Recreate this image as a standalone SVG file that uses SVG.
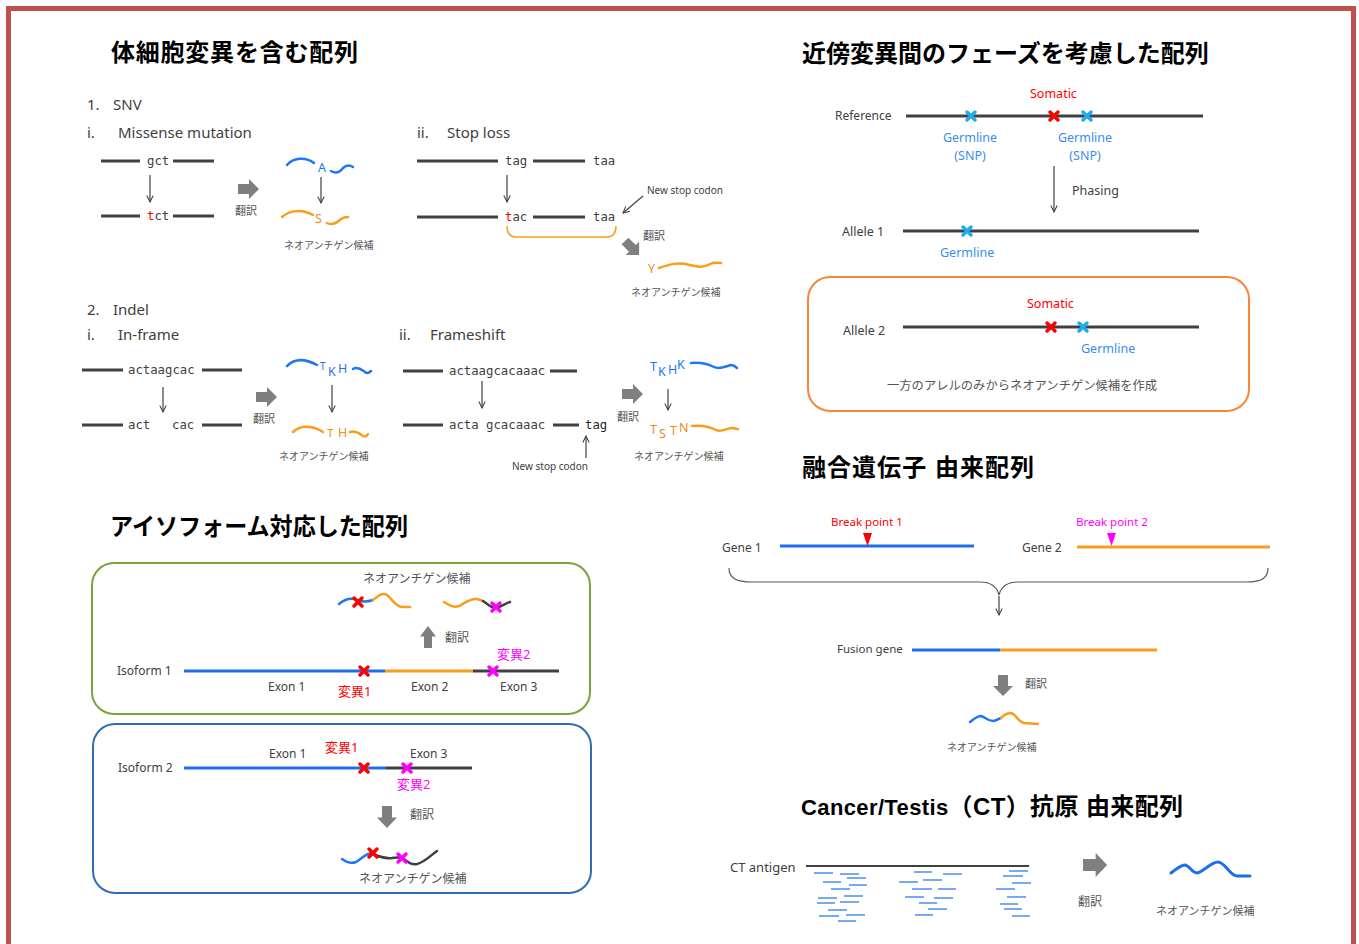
<svg xmlns="http://www.w3.org/2000/svg" xmlns:xlink="http://www.w3.org/1999/xlink" width="1359" height="944" viewBox="0 0 1359 944">
<style>
.title{font-family:"Liberation Sans","Noto Sans CJK JP",sans-serif;font-weight:bold;font-size:24px;fill:#000}
.t{font-family:"Noto Sans","Noto Sans CJK JP",sans-serif;fill:#404040}
.jp{font-family:"Noto Sans CJK JP",sans-serif;fill:#555}
.mono{font-family:"DejaVu Sans Mono","Liberation Mono",monospace;font-size:12.3px;fill:#404040}
.aa{font-family:"Noto Sans",sans-serif;font-size:12.5px}
.red{fill:#ff0000}.mag{fill:#ff00ff}.blu{fill:#3a8cf0}.bl2{fill:#2176f2}.org{fill:#f08a1c}
.dl{stroke:#404040;stroke-width:3;fill:none}
.thin{stroke:#404040;stroke-width:1.2;fill:none;marker-end:url(#ah)}
.wb{fill:none;stroke:#2176f2;stroke-width:2.5;stroke-linecap:round}
.wo{fill:none;stroke:#f99d1c;stroke-width:2.5;stroke-linecap:round}
.wk{fill:none;stroke:#404040;stroke-width:2.5;stroke-linecap:round}
.xr{stroke:#ff0000;stroke-width:3.5;stroke-linecap:round}
.xc{stroke:#22aaea;stroke-width:3.5;stroke-linecap:round}
.xm{stroke:#ff00ff;stroke-width:3.5;stroke-linecap:round}
.ba{fill:#7f7f7f}
.ct{stroke:#4a8ef0;stroke-width:1.6}
</style>
<defs>
<marker id="ah" viewBox="0 0 10 10" refX="9" refY="5" markerWidth="8" markerHeight="8" markerUnits="userSpaceOnUse" orient="auto"><path d="M1,1 L9,5 L1,9" fill="none" stroke="#404040" stroke-width="1.3"/></marker>
<path id="barrow" d="M0,-5 H11 V-10 L21,0 L11,10 V5 H0 Z"/>
<path id="xmark" d="M-4,-4 L4,4 M-4,4 L4,-4"/>
</defs>
<rect width="1359" height="944" fill="#fff"/>
<rect x="8.5" y="8.5" width="1345" height="960" fill="none" stroke="#c0504d" stroke-width="5"/>

<g id="titles">
<text class="title" x="111" y="61" textLength="247">体細胞変異を含む配列</text>
<text class="title" x="802" y="62">近傍変異間のフェーズを考慮した配列</text>
<text class="title" x="802" y="476" textLength="232">融合遺伝子 由来配列</text>
<text class="title" x="110" y="535" textLength="298" lengthAdjust="spacingAndGlyphs">アイソフォーム対応した配列</text>
<text class="title" x="801" y="815" textLength="382"><tspan font-size="22">Cancer/Testis</tspan>（CT）抗原 由来配列</text>
</g>

<g id="snv-missense">
<text class="t" x="87" y="110" font-size="15">1.</text><text class="t" x="113" y="110" font-size="15">SNV</text>
<text class="t" x="87" y="138" font-size="15">i.</text><text class="t" x="118" y="138" font-size="15">Missense mutation</text>
<path class="dl" d="M101,161 H140 M173,161 H214 M101,216 H140 M173,216 H214"/>
<text class="mono" x="147" y="165">gct</text>
<text class="mono" x="147" y="220"><tspan class="red">t</tspan>ct</text>
<use href="#barrow" class="ba" transform="translate(238,189)"/>
<text class="jp" x="235" y="215" font-size="11">翻訳</text>
<path class="wb" d="M287,165 C293,158 305,156 314,163"/>
<text class="aa bl2" x="318" y="172">A</text>
<path class="wb" d="M331,171 C336,174 340,172 343,168 C346,165 350,165 353,167"/>
<path class="wo" d="M282,217 C290,210 302,209 313,215"/>
<text class="aa org" x="315" y="223">S</text>
<path class="wo" d="M327,223 C333,226 338,222 341,219 C344,217 346,217 348,217"/>
<text class="jp" x="284" y="249" font-size="10">ネオアンチゲン候補</text>
</g>

<g id="snv-stoploss">
<text class="t" x="417" y="138" font-size="15">ii.</text><text class="t" x="447" y="138" font-size="15">Stop loss</text>
<path class="dl" d="M417,161 H498 M533,161 H585 M417,217 H498 M533,217 H585"/>
<text class="mono" x="505" y="165">tag</text>
<text class="mono" x="593" y="165">taa</text>
<text class="mono" x="505" y="221"><tspan class="red">t</tspan>ac</text>
<text class="mono" x="593" y="221">taa</text>
<path d="M507,226 C507,234 510,237 516,237 L607,237 C613,237 616,234 616,226" fill="none" stroke="#f99d1c" stroke-width="1.5"/>
<text class="t" x="647" y="194" font-size="10">New stop codon</text>
<use href="#barrow" class="ba" transform="translate(625,241) rotate(45) scale(0.95)"/>
<text class="jp" x="643" y="240" font-size="11">翻訳</text>
<text class="aa org" x="648" y="273">Y</text>
<path class="wo" d="M659,268 C670,264 678,262 690,265 C698,267 704,268 710,264 C714,262 717,263 721,263"/>
<text class="jp" x="631" y="296" font-size="10">ネオアンチゲン候補</text>
</g>

<g id="indel-inframe">
<text class="t" x="87" y="315" font-size="15">2.</text><text class="t" x="113" y="315" font-size="15">Indel</text>
<text class="t" x="87" y="340" font-size="15">i.</text><text class="t" x="118" y="340" font-size="15">In-frame</text>
<path class="dl" d="M82,370 H123 M202,370 H242 M82,425 H123 M202,425 H242"/>
<text class="mono" x="128" y="374">actaagcac</text>
<text class="mono" x="128" y="429">act</text>
<text class="mono" x="172" y="429">cac</text>
<use href="#barrow" class="ba" transform="translate(256,397)"/>
<text class="jp" x="253" y="423" font-size="11">翻訳</text>
<path class="wb" d="M287,366 C295,358 306,359 317,365"/>
<text class="bl2" font-family="Noto Sans,sans-serif" font-size="10" x="320" y="370">T</text>
<text class="aa bl2" x="328" y="376">K</text>
<text class="aa bl2" x="338" y="373">H</text>
<path class="wb" d="M353,369 C358,366 362,370 365,372 C367,374 369,373 371,371"/>
<path class="wo" d="M293,432 C300,425 312,425 323,432"/>
<text class="org" font-family="Noto Sans,sans-serif" font-size="11.5" x="327" y="437">T</text>
<text class="aa org" x="338" y="437">H</text>
<path class="wo" d="M350,432 C356,430 360,434 363,436 C365,437 367,436 368,434"/>
<text class="jp" x="279" y="460" font-size="10">ネオアンチゲン候補</text>
</g>

<g id="indel-frameshift">
<text class="t" x="399" y="340" font-size="15">ii.</text><text class="t" x="430" y="340" font-size="15">Frameshift</text>
<path class="dl" d="M403,371 H443 M550,371 H577 M403,425 H443 M553,425 H579"/>
<text class="mono" x="449" y="375">actaagcacaaac</text>
<text class="mono" x="449" y="429">acta gcacaaac</text>
<text class="mono" x="585" y="429" style="fill:#262626">tag</text>
<text class="t" x="512" y="470" font-size="10">New stop codon</text>
<use href="#barrow" class="ba" transform="translate(622,394)"/>
<text class="jp" x="617" y="421" font-size="11">翻訳</text>
<text class="aa bl2" x="650" y="371">T</text>
<text class="aa bl2" x="658" y="376">K</text>
<text class="aa bl2" x="668" y="374">H</text>
<text class="aa bl2" x="677" y="369">K</text>
<path class="wb" d="M691,363 C700,362 708,364 714,367 C720,370 726,366 731,365 C734,365 736,367 737,368"/>
<text class="aa org" x="650" y="434">T</text>
<text class="aa org" x="659" y="438">S</text>
<text class="aa org" x="670" y="435">T</text>
<text class="aa org" x="679" y="432">N</text>
<path class="wo" d="M692,426 C702,425 710,427 716,430 C721,433 727,428 732,428 C734,428 736,429 738,429"/>
<text class="jp" x="634" y="460" font-size="10">ネオアンチゲン候補</text>
</g>

<g id="phasing">
<text class="t" x="835" y="120" font-size="12">Reference</text>
<path class="dl" d="M906,116 H1203"/>
<use href="#xmark" class="xc" x="971" y="116"/>
<use href="#xmark" class="xr" x="1054" y="116"/>
<use href="#xmark" class="xc" x="1087" y="116"/>
<text class="t red" x="1030" y="98" font-size="12.5">Somatic</text>
<text class="t blu" x="970" y="142" font-size="12.5" text-anchor="middle">Germline</text>
<text class="t blu" x="970" y="160" font-size="12.5" text-anchor="middle">(SNP)</text>
<text class="t blu" x="1085" y="142" font-size="12.5" text-anchor="middle">Germline</text>
<text class="t blu" x="1085" y="160" font-size="12.5" text-anchor="middle">(SNP)</text>
<text class="t" x="1072" y="195" font-size="12.5">Phasing</text>
<text class="t" x="842" y="236" font-size="12.5">Allele 1</text>
<path class="dl" d="M903,231 H1199"/>
<use href="#xmark" class="xc" x="967" y="231"/>
<text class="t blu" x="940" y="257" font-size="12.5">Germline</text>
</g>

<g id="allele2-box">
<rect x="808" y="277" width="441" height="134" rx="22" fill="none" stroke="#f5873a" stroke-width="2"/>
<text class="t red" x="1027" y="308" font-size="12.5">Somatic</text>
<text class="t" x="843" y="335" font-size="12.5">Allele 2</text>
<path class="dl" d="M903,327 H1199"/>
<use href="#xmark" class="xr" x="1051" y="327"/>
<use href="#xmark" class="xc" x="1083" y="327"/>
<text class="t blu" x="1081" y="353" font-size="12.5">Germline</text>
<text class="jp" x="887" y="390" font-size="12.3">一方のアレルのみからネオアンチゲン候補を作成</text>
</g>

<g id="isoform1-box">
<rect x="92" y="563" width="498" height="151" rx="22" fill="none" stroke="#79a33b" stroke-width="2"/>
<text class="jp" x="363" y="583" font-size="12">ネオアンチゲン候補</text>
<path class="wb" d="M339,604 C344,600 350,597 357,600 C362,602 367,602 373,600"/>
<path class="wo" d="M373,600 C378,596 382,592 387,595 C392,599 396,607 402,607 L410,607"/>
<use href="#xmark" class="xr" x="358" y="602"/>
<path class="wo" d="M444,602 C449,605 453,608 459,606 C465,603 470,598 477,599 L483,601"/>
<path class="wk" d="M483,601 C488,604 491,608 496,608 C501,607 506,603 510,602"/>
<use href="#xmark" class="xm" x="496" y="607"/>
<use href="#barrow" class="ba" transform="translate(428,648) rotate(-90) scale(1.05,0.8)"/>
<text class="jp" x="445" y="642" font-size="12">翻訳</text>
<text class="t mag" x="497" y="659" font-size="13">変異2</text>
<text class="t" x="117" y="675" font-size="12">Isoform 1</text>
<path d="M184,671 H385" stroke="#1f6fea" stroke-width="3"/>
<path d="M385,671 H473" stroke="#f99d1c" stroke-width="3"/>
<path d="M473,671 H559" stroke="#404040" stroke-width="3"/>
<use href="#xmark" class="xr" x="364" y="671"/>
<use href="#xmark" class="xm" x="493" y="671"/>
<text class="t" x="268" y="691" font-size="12">Exon 1</text>
<text class="t red" x="338" y="696" font-size="13">変異1</text>
<text class="t" x="411" y="691" font-size="12">Exon 2</text>
<text class="t" x="500" y="691" font-size="12">Exon 3</text>
</g>

<g id="isoform2-box">
<rect x="93" y="724" width="498" height="169" rx="22" fill="none" stroke="#2f6eb5" stroke-width="2"/>
<text class="t" x="269" y="758" font-size="12">Exon 1</text>
<text class="t red" x="325" y="752" font-size="13">変異1</text>
<text class="t" x="410" y="758" font-size="12">Exon 3</text>
<text class="t" x="118" y="772" font-size="12">Isoform 2</text>
<path d="M184,768 H386" stroke="#1f6fea" stroke-width="3"/>
<path d="M386,768 H472" stroke="#404040" stroke-width="3"/>
<use href="#xmark" class="xr" x="364" y="768"/>
<use href="#xmark" class="xm" x="407" y="768"/>
<text class="t mag" x="397" y="789" font-size="13">変異2</text>
<use href="#barrow" class="ba" transform="translate(387,806) rotate(90) scale(1.05,1)"/>
<text class="jp" x="410" y="819" font-size="12">翻訳</text>
<path class="wb" d="M342,859 C346,862 351,864 356,862 C362,858 366,854 371,853"/>
<path class="wk" d="M371,853 C378,856 384,859 392,858 C398,857 401,857 404,859 C408,862 411,865 417,864 C425,862 431,855 437,851"/>
<use href="#xmark" class="xr" x="373" y="853"/>
<use href="#xmark" class="xm" x="402" y="858"/>
<text class="jp" x="359" y="883" font-size="12">ネオアンチゲン候補</text>
</g>

<g id="fusion">
<text class="t red" x="831" y="526" font-size="11.5">Break point 1</text>
<text class="t mag" x="1076" y="526" font-size="11.5">Break point 2</text>
<text class="t" x="722" y="552" font-size="12">Gene 1</text>
<text class="t" x="1022" y="552" font-size="12">Gene 2</text>
<path d="M780,546 H974" stroke="#1f6fea" stroke-width="3"/>
<path d="M1077,547 H1270" stroke="#f99d1c" stroke-width="3"/>
<path d="M863,533 L872,533 L867.5,546 Z" fill="#ff0000"/>
<path d="M1107,533 L1116,533 L1111.5,546 Z" fill="#ff00ff"/>
<text class="t" x="837" y="653" font-size="11.5">Fusion gene</text>
<path d="M912,650 H1000" stroke="#1f6fea" stroke-width="3"/>
<path d="M1000,650 H1157" stroke="#f99d1c" stroke-width="3"/>
<use href="#barrow" class="ba" transform="translate(1003,675) rotate(90)"/>
<text class="jp" x="1025" y="688" font-size="11">翻訳</text>
<path class="wb" d="M970,722 C974,719 977,716 981,716 C985,717 988,721 993,721 C996,721 998,719 1001,718"/>
<path class="wo" d="M1001,718 C1004,715 1007,713 1011,713 C1016,714 1018,722 1024,723 L1038,724"/>
<text class="jp" x="947" y="751" font-size="10">ネオアンチゲン候補</text>
</g>

<g id="ct-antigen">
<text class="t" x="730" y="872" font-size="13">CT antigen</text>
<path d="M806,866 H1029" stroke="#404040" stroke-width="2"/>
<path class="ct" d="M814,873H833M840,874H859M823,882H841M847,878H866M849,885H867M831,889H850M818,898H837M844,896H863M817,903H835M840,902H859M828,910H847M819,916H839M846,915H865M838,921H856"/>
<path class="ct" d="M914,872H932M943,874H962M899,882H918M923,880H942M912,889H932M938,889H956M905,897H924M934,898H953M919,903H937M928,909H947M915,915H933"/>
<path class="ct" d="M1009,871H1028M1003,876H1023M1012,883H1031M996,889H1015M1007,897H1026M1000,904H1018M1004,909H1022M1012,916H1030"/>
<use href="#barrow" class="ba" transform="translate(1083,865) scale(1.15,1.2)"/>
<text class="jp" x="1078" y="906" font-size="12">翻訳</text>
<path d="M1171,873 C1176,869 1181,865 1185,865 C1190,866 1192,873 1197,873 C1203,872 1211,862 1218,862 C1225,862 1230,876 1237,876 L1250,876" fill="none" stroke="#1f6fea" stroke-width="3" stroke-linecap="round"/>
<text class="jp" x="1156" y="915" font-size="11">ネオアンチゲン候補</text>
</g>

<g id="connectors">
<path class="thin" d="M150,175 V202"/>
<path class="thin" d="M321,177 V203"/>
<path class="thin" d="M507,175 V202"/>
<path class="thin" d="M643,196 L623,213"/>
<path class="thin" d="M163,387 V412"/>
<path class="thin" d="M332,385 V412"/>
<path class="thin" d="M482,381 V408"/>
<path class="thin" d="M586,458 V436"/>
<path class="thin" d="M668,389 V410"/>
<path class="thin" d="M1054,166 V212"/>
<path d="M729,568 C729,578 736,582 752,582 L980,582 C992,582 997,587 999,595 C1001,587 1006,582 1018,582 L1246,582 C1262,582 1268,578 1268,568" fill="none" stroke="#595959" stroke-width="1.2"/>
<path class="thin" d="M999,596 V615"/>
</g>
</svg>
